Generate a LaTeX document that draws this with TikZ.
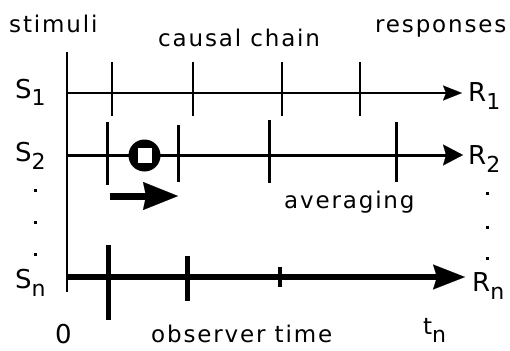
\documentclass[tikz,border=0pt]{standalone}
\usepackage{fontspec}
\setmainfont{DejaVu Sans}[LetterSpace=8]
\usetikzlibrary{arrows.meta}
\newcommand\lowsub[1]{\raisebox{-8pt}{\fontsize{22}{24}\selectfont#1}}
\begin{document}
\begin{tikzpicture}[x=1pt,y=-1pt,
  lab/.style={font=\fontsize{23}{26}\selectfont, inner sep=0pt},
  sym/.style={font=\fontsize{26}{28}\selectfont, inner sep=0pt},
  thin chain/.style={line width=2pt},
  mid chain/.style={line width=3pt},
  thick chain/.style={line width=5.5pt},
  dotmark/.style={fill=black}]
\useasboundingbox (0,0) rectangle (510,350);

% headings
\node[lab, anchor=base west] (stim) at (9,33) {stimuli};
\node[lab, anchor=base west] (chain) at (158,47) {causal chain};
\node[lab, anchor=base west] (resp) at (375,33) {responses};

% time axis origin
\coordinate (top) at (67,52);
\coordinate (bot) at (67,292);
\draw[line width=2.5pt] (top) -- (bot);

% line end points
\coordinate (a1) at (67,93);
\coordinate (e1) at (462,93);
\coordinate (a2) at (67,155);
\coordinate (e2) at (463,155);
\coordinate (an) at (67,277);
\coordinate (en) at (465,277);

% stimulus labels
\node[sym, anchor=base west] (S1) at (15,98) {S\lowsub{1}};
\node[sym, anchor=base west] (S2) at (15,161) {S\lowsub{2}};
\node[sym, anchor=base west] (Sn) at (15,288) {S\lowsub{n}};

% response labels
\node[sym, anchor=base west] (R1) at (468,101) {R\lowsub{1}};
\node[sym, anchor=base west] (R2) at (468,164) {R\lowsub{2}};
\node[sym, anchor=base west] (Rn) at (472,291) {R\lowsub{n}};

% causal chains
\draw[thin chain, -{Stealth[length=19pt,width=15pt,inset=3pt,line width=0.1pt]}] (a1) -- (e1);
\draw[mid chain, -{Stealth[length=20pt,width=21pt,inset=3pt,line width=0.1pt]}] (a2) -- (e2);
\draw[thick chain, -{Stealth[length=32pt,width=25pt,inset=4pt,line width=0.1pt]}] (an) -- (en);

% events along chain 1
\foreach \x in {112,193,282,360}
  \draw[thin chain] (\x,62) -- (\x,116);

% events along chain 2
\draw[mid chain] (107,122) -- (107,185);
\draw[mid chain] (178,125) -- (178,182);
\draw[mid chain] (269,120) -- (269,183);
\draw[mid chain] (396,122) -- (396,182);

% events along chain n
\draw[line width=5pt] (108,245) -- (108,320);
\draw[line width=5pt] (187,256) -- (187,301);
\draw[line width=4pt] (280,267) -- (280,287);

% observing window
\fill (144.5,155.5) circle (16);
\fill[white] (137.5,148) rectangle (151.5,163);
\draw[line width=7pt, -{Stealth[length=35pt,width=28pt,inset=3pt,line width=0.1pt]}] (110,196) -- (178,196);
\node[lab, anchor=base west] (avg) at (284,208) {averaging};

% ellipsis dots
\foreach \y in {190,222,254}
  \fill[dotmark] (33.5,\y-1.5) rectangle (36.5,\y+1.5);
\foreach \y in {193,227,258}
  \fill[dotmark] (485.5,\y-1.5) rectangle (488.5,\y+1.5);

% time labels
\node[sym, anchor=base west] (zero) at (55,343) {0};
\node[lab, anchor=base west] (obs) at (151,342) {observer time};
\node[lab, anchor=base west] (tn) at (423,334) {t\raisebox{-8pt}{\fontsize{22}{24}\selectfont n}};
\end{tikzpicture}
\end{document}
